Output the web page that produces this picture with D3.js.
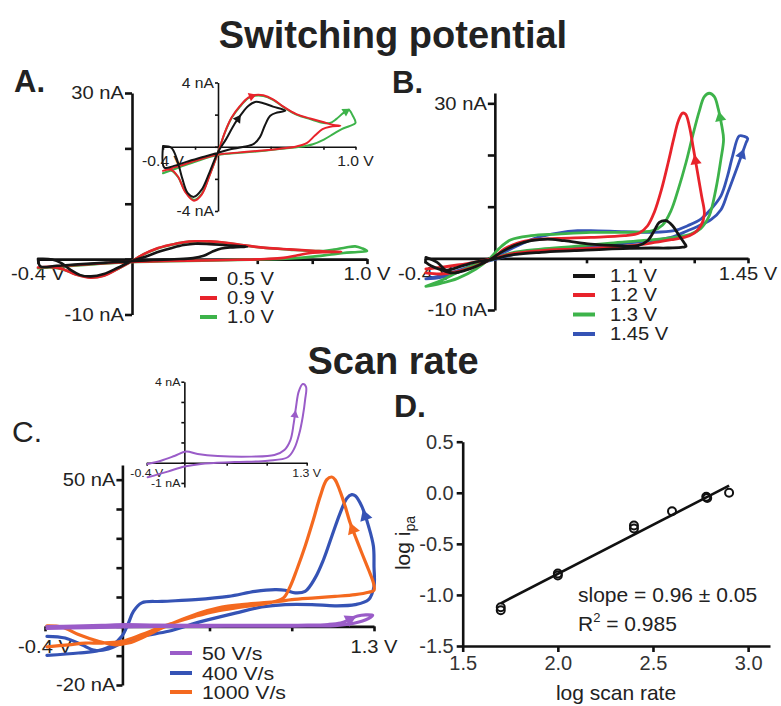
<!DOCTYPE html>
<html>
<head>
<meta charset="utf-8">
<script src="https://cdnjs.cloudflare.com/ajax/libs/d3/7.8.5/d3.min.js"></script>
<style>
  body { margin: 0; background: #fff; }
  text { font-family: "Liberation Sans", Arial, sans-serif; }
</style>
</head>
<body>
<svg id="fig" width="781" height="706"></svg>
<script>
// ---- colours
var cBlackC = '#151515', cRedC = '#e8232b', cGreenC = '#3db34a', cBlueC = '#3553b5'
var cPurpleC = '#9a5cc8', cOrangeC = '#f4691f'

// ---- Panel A: switching potential 0.5 / 0.9 / 1.0 V  [V, nA]
var aLegend = ['0.5 V', '0.9 V', '1.0 V']
var aBlack = [[-0.40,0.04],[-0.34,-0.06],[-0.30,-0.74],[-0.26,-1.97],[-0.22,-2.89],[-0.175,-3.12],[-0.12,-2.69],
  [-0.06,-1.56],[0.0,-0.33],[0.06,0.49],[0.12,1.42],[0.17,2.03],[0.22,2.54],[0.27,2.79],[0.33,2.71],[0.40,2.5],
  [0.49,2.24],[0.43,2.13],[0.38,1.93],[0.34,1.31],[0.305,0.6],[0.26,0.18],[0.18,-0.02],[0.09,-0.16],[0.0,-0.37],
  [-0.11,-0.64],[-0.23,-0.94],[-0.32,-1.19],[-0.39,-1.3],[-0.40,0.04]]
var aRed = [[-0.40,-1.5],[-0.34,-1.44],[-0.29,-1.87],[-0.24,-2.79],[-0.175,-3.36],[-0.12,-3.0],[-0.06,-1.76],
  [0.0,-0.37],[0.05,0.9],[0.10,1.83],[0.16,2.54],[0.22,3.06],[0.27,3.22],[0.33,3.2],[0.40,2.95],[0.475,2.5],
  [0.57,2.03],[0.67,1.76],[0.77,1.52],[0.84,1.35],[0.89,1.31],[0.815,1.25],[0.76,1.1],[0.705,0.7],[0.645,0.23],
  [0.57,0.02],[0.45,-0.12],[0.30,-0.25],[0.16,-0.35],[0.0,-0.49],[-0.155,-0.84],[-0.28,-1.19],[-0.40,-1.5]]
var aGreen = [[-0.40,-1.65],[-0.34,-1.5],[-0.29,-1.9],[-0.24,-2.75],[-0.175,-3.3],[-0.12,-2.95],[-0.06,-1.74],
  [0.0,-0.37],[0.05,0.88],[0.10,1.8],[0.16,2.5],[0.22,3.02],[0.27,3.18],[0.33,3.16],[0.40,2.92],[0.475,2.48],
  [0.57,2.0],[0.67,1.72],[0.77,1.48],[0.815,1.48],[0.86,1.72],[0.91,2.09],[0.95,2.3],[0.98,1.93],[1.0,1.48],
  [0.96,1.3],[0.90,1.1],[0.84,0.8],[0.77,0.45],[0.69,0.16],[0.60,0.0],[0.45,-0.14],[0.30,-0.28],[0.16,-0.38],
  [0.0,-0.52],[-0.155,-0.9],[-0.28,-1.28],[-0.40,-1.65]]

// ---- Panel B: switching potential 1.1 / 1.2 / 1.3 / 1.45 V
var bLegend = ['1.1 V', '1.2 V', '1.3 V', '1.45 V']
var bBlack = [[-0.395,0.19],[-0.33,-0.77],[-0.28,-2.26],[-0.213,-1.74],[-0.118,-0.77],[-0.007,-0.13],[0.092,0.64],
  [0.264,1.16],[0.455,1.48],[0.646,1.8],[0.78,1.93],[0.894,2.0],[0.99,2.0],[1.066,2.12],[1.095,2.32],[1.085,2.96],
  [1.056,4.38],[1.018,6.3],[0.98,7.28],[0.942,6.96],[0.913,5.35],[0.875,3.41],[0.818,2.45],[0.703,2.45],[0.55,2.77],
  [0.398,3.41],[0.302,3.73],[0.207,3.41],[0.111,2.45],[0.035,1.16],[-0.022,-0.13],[-0.099,-1.42],[-0.175,-2.38],
  [-0.242,-2.83],[-0.309,-2.19],[-0.366,-1.42],[-0.395,-0.77]]
var bRed = [[-0.395,-2.06],[-0.309,-1.74],[-0.213,-1.29],[-0.118,-0.77],[-0.007,0.0],[0.092,0.84],[0.264,1.48],
  [0.455,1.8],[0.646,2.12],[0.78,2.45],[0.894,2.96],[1.009,3.6],[1.085,4.06],[1.142,4.9],[1.18,6.3],[1.2,8.57],
  [1.184,12.1],[1.161,16.6],[1.138,21.1],[1.114,25.6],[1.093,27.9],[1.075,28.1],[1.051,26.6],[1.024,23.06],
  [0.993,18.55],[0.955,13.4],[0.913,8.89],[0.875,6.31],[0.827,4.9],[0.741,4.38],[0.55,4.06],[0.36,3.86],[0.226,3.6],
  [0.13,2.96],[0.054,1.8],[-0.007,0.19],[-0.099,-1.42],[-0.213,-2.58],[-0.309,-3.03],[-0.395,-2.83]]
var bGreen = [[-0.395,-5.41],[-0.309,-4.32],[-0.213,-2.71],[-0.118,-1.29],[-0.007,-0.13],[0.092,1.03],[0.264,1.8],
  [0.455,2.32],[0.646,2.9],[0.837,3.41],[1.028,4.06],[1.123,4.7],[1.18,5.8],[1.228,8.24],[1.266,13.4],[1.295,19.2],
  [1.31,23.06],[1.3,25.6],[1.28,28.86],[1.257,31.3],[1.228,31.95],[1.2,31.3],[1.171,28.5],[1.133,23.7],[1.095,18.55],
  [1.051,13.4],[1.009,9.21],[0.961,6.44],[0.904,5.35],[0.741,5.03],[0.55,5.03],[0.36,4.7],[0.207,4.38],[0.092,3.6],
  [0.025,1.93],[-0.032,-0.13],[-0.108,-2.06],[-0.213,-3.87],[-0.309,-4.83],[-0.395,-5.41]]
var bBlue = [[-0.395,-3.99],[-0.309,-3.35],[-0.213,-2.38],[-0.118,-1.29],[-0.007,-0.26],[0.092,0.64],[0.264,1.48],
  [0.455,2.06],[0.646,2.58],[0.837,3.22],[1.009,4.06],[1.104,5.35],[1.161,6.18],[1.238,7.47],[1.295,9.4],[1.333,12.6],
  [1.39,17.78],[1.438,22.3],[1.448,23.2],[1.429,23.6],[1.40,23.7],[1.362,19.84],[1.333,15.97],[1.295,12.1],[1.238,9.53],
  [1.18,7.6],[1.104,6.31],[1.028,5.35],[0.894,5.03],[0.741,5.15],[0.55,5.35],[0.474,5.35],[0.36,4.9],[0.245,4.06],
  [0.13,2.45],[0.054,1.16],[-0.007,0.0],[-0.099,-1.29],[-0.213,-2.71],[-0.309,-3.67],[-0.395,-3.99]]

// ---- Panel C: scan rate 50 / 400 / 1000 V/s
var cLegend = ['50 V/s', '400 V/s', '1000 V/s']
var cPurple = [[-0.39,-0.06],[-0.248,0.1],[-0.106,0.33],[0.018,0.55],[0.142,0.43],[0.354,0.33],[0.709,0.3],
  [0.957,0.38],[1.063,0.63],[1.127,1.12],[1.162,1.94],[1.187,2.77],[1.215,3.51],[1.258,3.89],[1.293,3.75],[1.283,3.1],
  [1.258,2.27],[1.222,1.45],[1.169,0.71],[1.098,0.27],[0.886,0.1],[0.532,0.03],[0.177,-0.06],[0.0,-0.19],
  [-0.177,-0.44],[-0.39,-0.72]]
var cBlue = [[-0.39,-3.4],[-0.296,-4.0],[-0.21,-6.3],[-0.141,-8.2],[-0.072,-7.7],[-0.003,-5.7],[0.10,-3.4],
  [0.238,-1.7],[0.41,1.7],[0.583,4.5],[0.72,6.6],[0.841,7.4],[0.979,7.4],[1.099,7.0],[1.203,7.4],[1.272,9.1],[1.3,13.6],
  [1.3,20.4],[1.297,27.3],[1.272,34.1],[1.237,40.9],[1.203,44.5],[1.185,44.9],[1.16,43.7],[1.125,38.6],[1.082,30.7],
  [1.039,22.7],[0.996,16.5],[0.944,11.9],[0.893,11.4],[0.841,12.3],[0.789,12.5],[0.686,11.9],[0.548,10.2],[0.376,9.1],
  [0.204,8.5],[0.10,8.0],[0.057,5.1],[0.028,0.6],[-0.003,-3.4],[-0.055,-6.6],[-0.124,-8.3],[-0.227,-9.1],[-0.39,-9.9]]
var cOrange = [[-0.39,0.2],[-0.313,-0.2],[-0.227,-2.8],[-0.124,-5.1],[-0.037,-6.3],[0.031,-5.7],[0.118,-3.4],
  [0.204,-0.6],[0.307,2.3],[0.41,4.8],[0.514,6.6],[0.617,7.4],[0.72,8.0],[0.807,8.5],[0.875,9.1],[0.996,9.7],[1.099,10.2],
  [1.203,10.8],[1.272,11.6],[1.3,12.3],[1.297,14.8],[1.272,19.3],[1.237,25.0],[1.203,30.7],[1.177,35.2],[1.151,40.9],
  [1.125,46.0],[1.099,50.0],[1.082,50.9],[1.056,50.0],[1.022,44.3],[0.987,36.4],[0.944,27.3],[0.901,19.3],[0.867,13.6],
  [0.832,9.7],[0.755,8.0],[0.617,6.6],[0.479,5.1],[0.376,3.4],[0.273,1.4],[0.186,-0.6],[0.10,-2.8],[-0.003,-5.1],
  [-0.106,-5.7],[-0.192,-5.7],[-0.279,-6.3],[-0.39,-7.0]]

// ---- Panel D: log peak current vs log scan rate
var dLogRate = [1.7, 1.7, 2.0, 2.0, 2.4, 2.4, 2.6, 2.78, 2.785, 2.9]
var dLogIpa = [-1.12, -1.15, -0.79, -0.81, -0.32, -0.35, -0.18, -0.04, -0.05, 0.0]
var dFit = { slope: 0.96, intercept: -2.714, from: 1.7, to: 2.9 }
var dXTicks = [1.5, 2.0, 2.5, 3.0]
var dYTicks = [-1.5, -1.0, -0.5, 0.0, 0.5]

var SX = 1.12   // labels in the CV panels are a bit wide
var svg = d3.select('#fig')

function label(g, x, y, s, size, anchor, weight) {
  return g.append('text')
    .attr('transform', 'translate(' + x + ',' + y + ') scale(' + SX + ',1)')
    .attr('text-anchor', anchor || 'start')
    .attr('font-size', size)
    .attr('font-weight', weight || 'normal')
    .attr('fill', '#222')
    .text(s)
}

function arrowHead(g, x, y, d, i, color, area) {
  var x1 = x(d[i][0]), y1 = y(d[i][1]), x2 = x(d[i + 1][0]), y2 = y(d[i + 1][1])
  var ang = Math.atan2(y2 - y1, x2 - x1) * 180 / Math.PI
  g.append('path')
    .attr('d', d3.symbol(d3.symbolTriangle, area)())
    .attr('transform', 'translate(' + (x1 + x2) / 2 + ',' + (y1 + y2) / 2 + ') rotate(' + (ang + 90) + ')')
    .attr('fill', color)
}

function cvPlot(o) {
  var x = d3.scaleLinear().domain(o.xDomain).range(o.xRange)
  var y = d3.scaleLinear().domain(o.yDomain).range(o.yRange)
  var g = svg.append('g')

  g.append('g').attr('transform', 'translate(' + x(0) + ',0)')
    .call(d3.axisLeft(y).tickValues(o.yTicks).tickSize(o.tick).tickSizeOuter(0).tickFormat(''))
  g.append('g').attr('transform', 'translate(0,' + y(0) + ')')
    .call(d3.axisBottom(x).tickValues(o.xTicks).tickSize(o.xTick || o.tick).tickSizeOuter(0).tickFormat(''))
  g.selectAll('.domain, .tick line').attr('stroke', '#111').attr('stroke-width', o.axisW)

  o.yLabels.forEach(function (l) {
    label(g, x(0) - o.tick - 1, y(l[0]) + o.font * 0.36, l[1], o.font, 'end')
  })
  o.xLabels.forEach(function (l) {
    label(g, x(l[0]), y(0) + o.xLabelOff, l[1], o.font, 'middle')
  })

  var line = d3.line()
    .x(function (d) { return x(d[0]) })
    .y(function (d) { return y(d[1]) })
    .curve(d3.curveCatmullRom.alpha(0.5))

  o.series.forEach(function (s) {
    g.append('path').datum(s.data)
      .attr('d', line)
      .attr('fill', 'none')
      .attr('stroke', s.color)
      .attr('stroke-width', o.lw)
      .attr('stroke-linejoin', 'round')
      .attr('stroke-linecap', 'round')
    if (o.arrowArea && s.arrow != null) arrowHead(g, x, y, s.data, s.arrow, s.color, o.arrowArea)
  })
  return g
}

function legend(names, colors, x0, x1, xt, rows, font) {
  var g = svg.append('g')
  names.forEach(function (n, i) {
    g.append('line').attr('x1', x0).attr('x2', x1).attr('y1', rows[i]).attr('y2', rows[i])
      .attr('stroke', colors[i]).attr('stroke-width', 4)
    label(g, xt, rows[i] + font * 0.36, n, font, 'start')
  })
}

// ---- titles & panel letters
var head = svg.append('g').attr('fill', '#222').attr('font-weight', 'bold')
head.append('text').attr('x', 393).attr('y', 48).attr('text-anchor', 'middle').attr('font-size', 38).text('Switching potential')
head.append('text').attr('x', 393).attr('y', 374).attr('text-anchor', 'middle').attr('font-size', 38).text('Scan rate')
head.append('text').attr('x', 14).attr('y', 92).attr('font-size', 31).text('A.')
head.append('text').attr('x', 392).attr('y', 93).attr('font-size', 31).text('B.')
head.append('text').attr('x', 12).attr('y', 442).attr('font-size', 30).attr('font-weight', 'normal').text('C.')
head.append('text').attr('x', 394).attr('y', 417).attr('font-size', 32).text('D.')

// ---- Panel A
var aSeries = [
  { data: aGreen, color: cGreenC, arrow: 21 },
  { data: aRed, color: cRedC, arrow: 11 },
  { data: aBlack, color: cBlackC, arrow: 10 }
]
cvPlot({
  xDomain: [-0.4, 1.0], xRange: [38, 367], yDomain: [-10, 30], yRange: [314.5, 93],
  xTicks: [-0.4, 0.533, 0.767, 1.0], yTicks: [-10, 0, 10, 20, 30], tick: 7, xTick: 5, axisW: 2.6,
  font: 18, xLabelOff: 21, yLabels: [[30, '30 nA'], [-10, '-10 nA']], xLabels: [[-0.4, '-0.4 V'], [1.0, '1.0 V']],
  series: aSeries, lw: 2.6
})
cvPlot({
  xDomain: [-0.4, 1.0], xRange: [163, 355.5], yDomain: [-4, 4], yRange: [211, 82.5],
  xTicks: [-0.4, -0.167, 0.383, 0.767, 1.0], yTicks: [-4, -2, 0, 2, 4], tick: 3, axisW: 1.6,
  font: 14, xLabelOff: 19, yLabels: [[4, '4 nA'], [-4, '-4 nA']], xLabels: [[-0.4, '-0.4 V'], [1.0, '1.0 V']],
  series: aSeries, lw: 2, arrowArea: 34
})
legend(aLegend, [cBlackC, cRedC, cGreenC], 200, 217, 227, [279, 298, 317], 18)

// ---- Panel B
cvPlot({
  xDomain: [-0.4, 1.45], xRange: [425, 748], yDomain: [-10, 32], yRange: [310, 93],
  xTicks: [-0.4, 0.525, 0.833, 1.142, 1.45], yTicks: [-10, 0, 10, 20, 30], tick: 7, xTick: 5, axisW: 2.6,
  font: 18, xLabelOff: 22, yLabels: [[30, '30 nA'], [-10, '-10 nA']], xLabels: [[-0.4, '-0.4 V'], [1.45, '1.45 V']],
  series: [
    { data: bBlue, color: cBlueC, arrow: 16 },
    { data: bGreen, color: cGreenC, arrow: 17 },
    { data: bRed, color: cRedC, arrow: 17 },
    { data: bBlack, color: cBlackC }
  ],
  lw: 2.8, arrowArea: 55
})
legend(bLegend, [cBlackC, cRedC, cGreenC, cBlueC], 573, 595, 610, [276, 295, 314.5, 334], 18)

// ---- Panel C
cvPlot({
  xDomain: [-0.4, 1.3], xRange: [45, 374], yDomain: [-20, 55], yRange: [685, 465],
  xTicks: [-0.4, 0.45, 0.875, 1.3], yTicks: [-20, -10, 0, 10, 20, 30, 40, 50], tick: 6, xTick: 5, axisW: 2.6,
  font: 18, xLabelOff: 27, yLabels: [[50, '50 nA'], [-20, '-20 nA']], xLabels: [[-0.4, '-0.4 V'], [1.3, '1.3 V']],
  series: [
    { data: cBlue, color: cBlueC, arrow: 19 },
    { data: cOrange, color: cOrangeC, arrow: 23 },
    { data: cPurple, color: cPurpleC, arrow: 10 }
  ],
  lw: 3.2, arrowArea: 70
})
cvPlot({
  xDomain: [-0.4, 1.3], xRange: [146.7, 306.7], yDomain: [-1.2, 4], yRange: [487, 381.7],
  xTicks: [-0.4, 0.45, 0.875, 1.3], yTicks: [-1, 0, 1, 2, 3, 4], tick: 3, axisW: 1.6,
  font: 11, xLabelOff: 14, yLabels: [[4, '4 nA'], [-1, '-1 nA']], xLabels: [[-0.4, '-0.4 V'], [1.3, '1.3 V']],
  series: [{ data: cPurple, color: cPurpleC, arrow: 10 }],
  lw: 2, arrowArea: 30
})
legend(cLegend, [cPurpleC, cBlueC, cOrangeC], 170, 192, 202, [653, 673, 692], 19)

// ---- Panel D
var dx = d3.scaleLinear().domain([1.5, 3.115]).range([462.7, 770])
var dy = d3.scaleLinear().domain([-1.5, 0.5]).range([646, 441.7])
var dg = svg.append('g')
dg.append('g').attr('transform', 'translate(0,' + dy(-1.5) + ')')
  .call(d3.axisBottom(dx).tickValues(dXTicks).tickSize(6).tickSizeOuter(0).tickPadding(4)
    .tickFormat(function (d) { return d.toFixed(1) }))
dg.append('g').attr('transform', 'translate(' + dx(1.5) + ',0)')
  .call(d3.axisLeft(dy).tickValues(dYTicks).tickSize(6).tickSizeOuter(0).tickPadding(3)
    .tickFormat(function (d) { return d.toFixed(1) }))
dg.selectAll('.domain, .tick line').attr('stroke', '#111').attr('stroke-width', 2.6)
dg.selectAll('.tick text').attr('font-size', 20).attr('fill', '#333')
  .attr('font-family', '"Liberation Sans", Arial, sans-serif')

dg.append('line')
  .attr('x1', dx(dFit.from)).attr('y1', dy(dFit.slope * dFit.from + dFit.intercept))
  .attr('x2', dx(dFit.to)).attr('y2', dy(dFit.slope * dFit.to + dFit.intercept))
  .attr('stroke', '#111').attr('stroke-width', 2.6)

dg.selectAll('circle.pt').data(dLogRate).enter().append('circle')
  .attr('class', 'pt')
  .attr('cx', function (d) { return dx(d) })
  .attr('cy', function (d, i) { return dy(dLogIpa[i]) })
  .attr('r', 4)
  .attr('fill', 'none')
  .attr('stroke', '#111')
  .attr('stroke-width', 2)

var dt = dg.append('g').attr('fill', '#222').attr('font-size', 21)
dt.append('text').attr('x', 578).attr('y', 602).text('slope = 0.96 \u00b1 0.05')
var r2 = dt.append('text').attr('x', 578).attr('y', 631)
r2.append('tspan').text('R')
r2.append('tspan').attr('font-size', 13).attr('dy', -9).text('2')
r2.append('tspan').attr('dy', 9).text(' = 0.985')

dt.append('text').attr('x', 616).attr('y', 700).attr('text-anchor', 'middle').text('log scan rate')
var yl = dt.append('text').attr('transform', 'translate(410,543) rotate(-90)').attr('text-anchor', 'middle')
yl.append('tspan').text('log i')
yl.append('tspan').attr('font-size', 14).attr('dy', 5).text('pa')
</script>
</body>
</html>
